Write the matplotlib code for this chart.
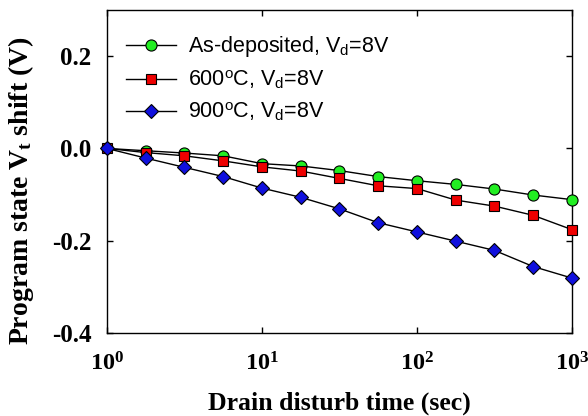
import matplotlib
matplotlib.use("Agg")
import matplotlib.pyplot as plt
from matplotlib.ticker import FixedLocator, FixedFormatter

plt.rcParams['mathtext.fontset'] = 'custom'
plt.rcParams['mathtext.rm'] = 'Liberation Serif:bold'
plt.rcParams['mathtext.bf'] = 'Liberation Serif:bold'
plt.rcParams['mathtext.it'] = 'Liberation Serif:bold'
plt.rcParams['mathtext.sf'] = 'Liberation Sans'

time_s = [1, 1.78, 3.16, 5.62, 10, 17.8, 31.6, 56.2, 100, 178, 316, 562, 1000]
as_dep = [0, -0.005, -0.010, -0.016, -0.033, -0.038, -0.048, -0.061, -0.070, -0.078, -0.088, -0.101, -0.111]
t600 = [0, -0.009, -0.016, -0.027, -0.040, -0.049, -0.065, -0.081, -0.087, -0.112, -0.125, -0.145, -0.176]
t900 = [0, -0.021, -0.041, -0.061, -0.086, -0.106, -0.131, -0.161, -0.181, -0.201, -0.221, -0.256, -0.281]

labels = [r"As-deposited, V$_{\mathsf{d}}$=8V",
          r"600$^{\mathsf{o}}$C, V$_{\mathsf{d}}$=8V",
          r"900$^{\mathsf{o}}$C, V$_{\mathsf{d}}$=8V"]
yticks = [-0.4, -0.2, 0.0, 0.2]
ytick_labels = ["-0.4", "-0.2", "0.0", "0.2"]
xticks = [1, 10, 100, 1000]
xtick_labels = [r"$\mathbf{10^{0}}$", r"$\mathbf{10^{1}}$", r"$\mathbf{10^{2}}$", r"$\mathbf{10^{3}}$"]

fig = plt.figure(figsize=(5.88, 4.16), dpi=100)
ax = fig.add_axes([107/588, 1-333/416, (572-107)/588, (333-10)/416])

ax.plot(time_s, as_dep, '-o', color='black', lw=1, mfc='#22ee22', mec='black', mew=0.8, ms=8, label=labels[0], clip_on=False, zorder=3)
ax.plot(time_s, t600, '-s', color='black', lw=1, mfc='#ee0000', mec='black', mew=0.8, ms=7.5, label=labels[1], clip_on=False, zorder=4)
ax.plot(time_s, t900, '-D', color='black', lw=1, mfc='#1010dd', mec='black', mew=0.8, ms=7, label=labels[2], clip_on=False, zorder=5)

ax.set_xscale('log')
ax.set_xlim(1, 1000)
ax.set_ylim(-0.4, 0.3)
ax.xaxis.set_major_locator(FixedLocator(xticks))
ax.xaxis.set_major_formatter(FixedFormatter(xtick_labels))
ax.xaxis.set_minor_locator(FixedLocator([]))
ax.yaxis.set_major_locator(FixedLocator(yticks))
ax.yaxis.set_major_formatter(FixedFormatter(ytick_labels))
ax.tick_params(direction='in', length=4, width=1, top=True, right=True)
ax.tick_params(axis='y', pad=11)
ax.tick_params(axis='x', pad=13)
for lbl in ax.get_yticklabels():
    lbl.set_fontfamily('Liberation Serif')
    lbl.set_fontweight('bold')
    lbl.set_fontsize(18)
for lbl in ax.get_xticklabels():
    lbl.set_fontsize(17.5)
for sp in ax.spines.values():
    sp.set_linewidth(1)

ax.set_xlabel("Drain disturb time (sec)", fontfamily='Liberation Serif', fontweight='bold', fontsize=18.5, labelpad=12)
ax.set_ylabel(r"Program state V$_{\mathbf{t}}$ shift (V)", fontfamily='Liberation Serif', fontweight='bold', fontsize=20, labelpad=8)
ax.yaxis.set_label_coords(-0.152, 0.44)

leg = ax.legend(loc='upper left', bbox_to_anchor=(0.0, 0.985), frameon=False,
                prop={'family': 'Liberation Sans', 'size': 15.5}, handlelength=2.3,
                labelspacing=0.45, handletextpad=0.55)

fig.savefig("out.png", dpi=100)
